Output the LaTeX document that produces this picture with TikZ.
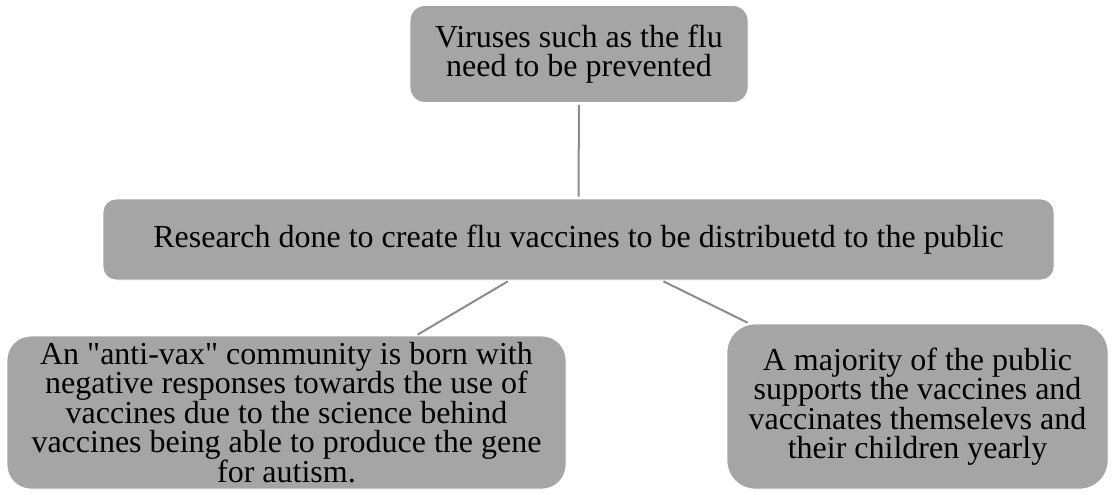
\documentclass[tikz,border=0pt]{standalone}
\usepackage{fontspec}
\newfontfamily\serifplain{Liberation Serif}
\definecolor{boxfill}{RGB}{165,165,165}
\definecolor{connc}{RGB}{140,140,140}
\begin{document}
\begin{tikzpicture}[x=1pt,y=-1pt,
  card/.style={rectangle, fill=boxfill, draw=white, line width=0.8pt, inner sep=0pt,
    align=center, font=\serifplain\fontsize{32}{29.5}\selectfont},
  conn/.style={draw=connc, line width=2pt, shorten <=2pt, shorten >=2pt}]
\useasboundingbox (0,0) rectangle (1114,495);
\node[card, rounded corners=15pt, minimum width=338pt, minimum height=97pt] (top) at (579,54)
  {Viruses such as the flu\\need to be prevented};
\node[card, rounded corners=13pt, minimum width=951pt, minimum height=81pt] (mid) at (578.5,239.5)
  {Research done to create flu vaccines to be distribuetd to the public};
\node[card, rounded corners=24pt, minimum width=559pt, minimum height=153pt] (left) at (286.5,412.5)
  {An "anti-vax" community is born with\\negative responses towards the use of\\vaccines due to the science behind\\vaccines being able to produce the gene\\for autism.};
\node[card, rounded corners=28pt, minimum width=381pt, minimum height=165pt] (right) at (917.5,406.5)
  {A majority of the public\\supports the vaccines and\\vaccinates themselevs and\\their children yearly};
\draw[conn] (top) -- (mid);
\draw[conn] (mid) -- (left);
\draw[conn] (mid) -- (right);
\end{tikzpicture}
\end{document}
